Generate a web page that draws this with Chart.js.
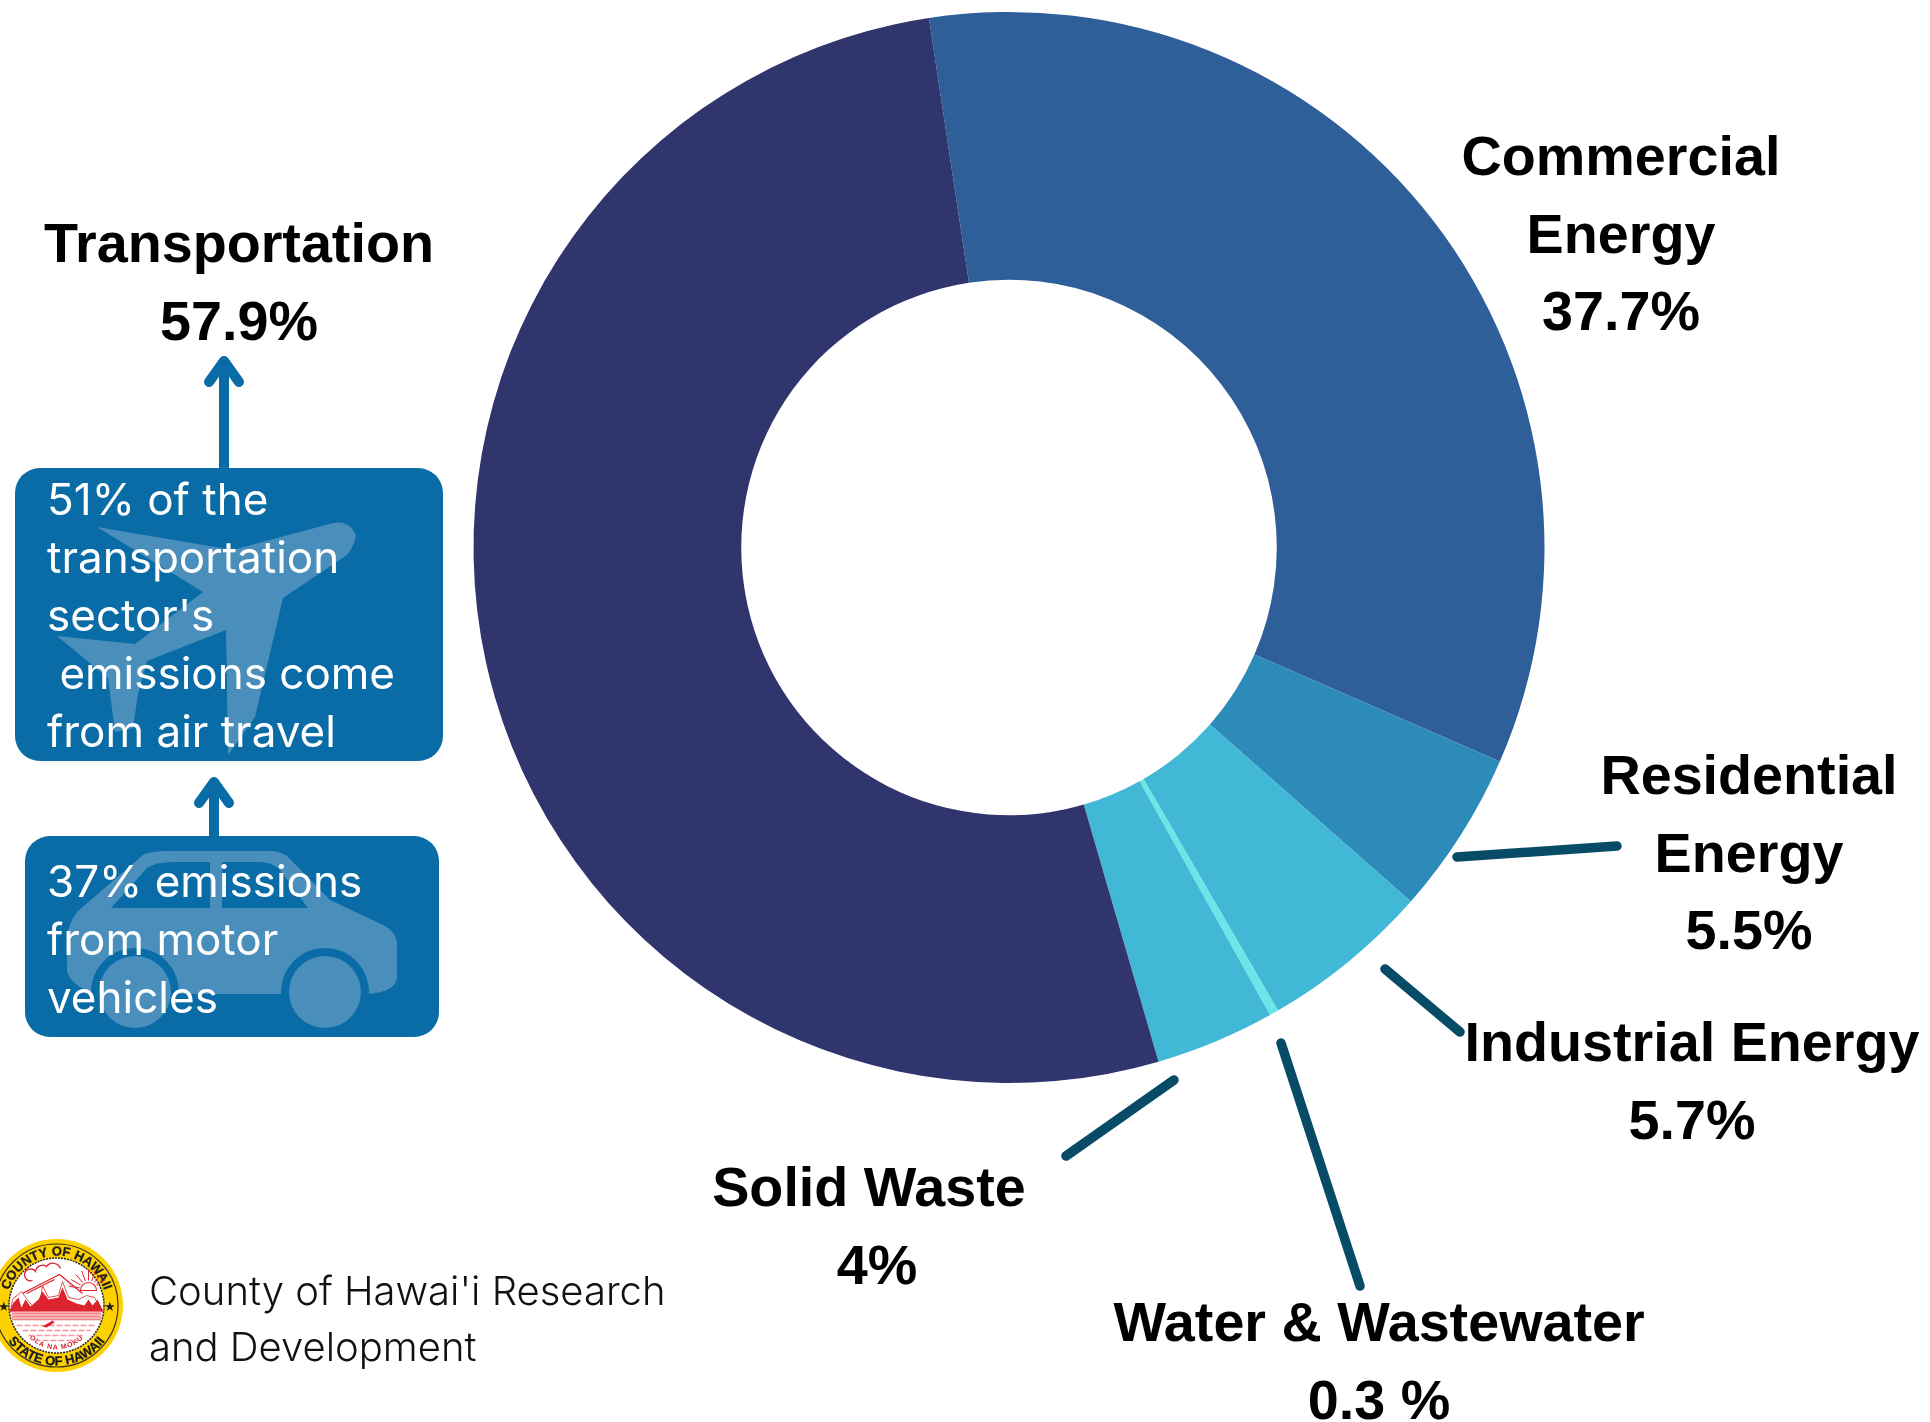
<!DOCTYPE html>
<html>
<head>
<meta charset="utf-8">
<title>Emissions by sector</title>
<script src="https://cdn.jsdelivr.net/npm/chart.js@4"></script>
<style>
	html, body { margin: 0; padding: 0; background: #fff; }
	#wrap { position: relative; width: 1930px; height: 1422px; overflow: hidden; }
	#sectorChart { position: absolute; left: 0; top: 0; }
	#overlay { position: absolute; left: 0; top: 0; }
	.label { font: bold 55.7px 'Liberation Sans', Arial, sans-serif; fill: #000; text-anchor: middle; }
	.note { font: 400 44px Inter, sans-serif; fill: #fff; }
	.credit { font: 300 40px Inter, sans-serif; fill: #111; }
	.seal { font: bold 13px 'Liberation Sans', sans-serif; fill: #1c1c1c; stroke: #1c1c1c; stroke-width: 0.3; text-anchor: middle; }
	.motto { font: bold 7px 'Liberation Sans', sans-serif; fill: #d9232e; text-anchor: middle; letter-spacing: 1px; }
</style>
</head>
<body>
<div id="wrap">
	<canvas id="sectorChart" width="1930" height="1422"></canvas>
	<svg id="overlay" width="1930" height="1422" xmlns="http://www.w3.org/2000/svg"></svg>
</div>
<script>
// sectors, clockwise from the top of the ring
const categories = ['Commercial Energy', 'Residential Energy', 'Industrial Energy', 'Water & Wastewater', 'Solid Waste', 'Transportation']
const sectorValues = [37.7, 5.5, 5.7, 0.3, 4, 57.9]
const sectorColors = ['#2f5f98', '#2d8bba', '#41b8d5', '#6ce5e8', '#41b8d5', '#31356e']

const valueText = ['37.7%', '5.5%', '5.7%', '0.3 %', '4%', '57.9%']

const noteLines = ['51% of the', 'transportation', "sector's", ' emissions come', 'from air travel']
const carNoteLines = ['37% emissions', 'from motor', 'vehicles']
const creditLines = ["County of Hawai'i Research", 'and Development']

new Chart(document.getElementById('sectorChart').getContext('2d'), {
	type: 'doughnut',
	data: {
		labels: categories,
		datasets: [
			{
				data: sectorValues,
				backgroundColor: sectorColors,
				borderWidth: 0,
			},
		],
	},
	options: {
		responsive: false,
		animation: false,
		cutout: '50%',
		rotation: -8.6,
		layout: { padding: { left: 473, right: 385, top: 12, bottom: 339 } },
		plugins: { legend: { display: false }, title: { display: false }, tooltip: { enabled: false } },
	},
})

const svg = document.getElementById('overlay')
const NS = 'http://www.w3.org/2000/svg'

function add(tag, attrs, text, parent) {
	const el = document.createElementNS(NS, tag)
	for (const k in attrs) el.setAttribute(k, attrs[k])
	if (text !== undefined) el.textContent = text
	;(parent || svg).appendChild(el)
	return el
}

// sector captions, one text per line
function caption(lines, x, y) {
	lines.forEach((line, i) => {
		add('text', { class: 'label', x: line.x || x, y: y + i * 77.5 }, line.t || line)
	})
}
caption(['Commercial', 'Energy', valueText[0]], 1621, 175)
caption(['Residential', 'Energy', valueText[1]], 1749, 794)
caption(['Industrial Energy', valueText[2]], 1692, 1061)
caption(['Water & Wastewater', valueText[3]], 1379, 1341)
caption(['Solid Waste', { t: valueText[4], x: 877 }], 869, 1206)
caption(['Transportation', valueText[5]], 239, 262)

// leader lines from captions to the ring
const leaders = [
	[1457, 857, 1617, 846],
	[1385, 969, 1460, 1032],
	[1281, 1043, 1360, 1286],
	[1174, 1080, 1066, 1156],
]
leaders.forEach(l => {
	add('line', { x1: l[0], y1: l[1], x2: l[2], y2: l[3], stroke: '#074b66', 'stroke-width': 9.5, 'stroke-linecap': 'round' })
})

// info boxes
const boxBlue = '#096ca6'
const iconBlue = '#4a8fbb'
add('rect', { x: 15, y: 468, width: 428, height: 293, rx: 25, fill: boxBlue })
add('rect', { x: 25, y: 836, width: 414, height: 201, rx: 25, fill: boxBlue })

// arrows above the boxes
function arrow(x, y1, y2, half, drop, w) {
	add('path', {
		d: `M${x} ${y1}V${y2}M${x - half} ${y2 + drop}L${x} ${y2}L${x + half} ${y2 + drop}`,
		fill: 'none', stroke: boxBlue, 'stroke-width': w, 'stroke-linecap': 'round', 'stroke-linejoin': 'round',
	})
}
arrow(224, 468, 361, 15, 21, 10)
arrow(214, 838, 782, 15, 21, 10)

// plane and car icons behind the note text
add('path', {
	d: 'M97 527L233 550L333 523Q350 520 356 536Q354 546 347 555L283 598L255 717L228 755L226 630L147 661L138 694L133 728L115 732L108 678L57 636L135 644L203 592Z',
	fill: iconBlue,
})
add('path', {
	d: 'M67 940Q68 922 78 911L143 855Q150 851 170 851L273 851Q284 852 290 859L330 900L383 925Q397 932 397 945L397 978Q395 992 368 994L95 994Q70 985 67 971Z',
	fill: iconBlue,
})
add('path', { d: 'M111 908L147 868Q155 862 175 862L210 862L210 908Z', fill: boxBlue })
add('path', { d: 'M222 862L262 862Q275 864 280 870L308 908L222 908Z', fill: boxBlue })
add('circle', { cx: 325, cy: 992, r: 44, fill: boxBlue })
add('circle', { cx: 325, cy: 992, r: 36, fill: iconBlue })
add('circle', { cx: 135, cy: 992, r: 44, fill: boxBlue })
add('circle', { cx: 135, cy: 992, r: 36, fill: iconBlue })

noteLines.forEach((line, i) => {
	add('text', { class: 'note', x: 47, y: 515 + i * 58, style: 'white-space:pre' }, line)
})
carNoteLines.forEach((line, i) => {
	add('text', { class: 'note', x: 47, y: 897 + i * 58 }, line)
})

creditLines.forEach((line, i) => {
	add('text', { class: 'credit', x: 149, y: 1305 + i * 56 }, line)
})

// county seal
const seal = add('g', { transform: 'translate(56.5 1305.5)' })
const sealRed = '#dd232d'
add('circle', { r: 66.5, fill: '#fdd000' }, undefined, seal)
add('circle', { r: 61.5, fill: 'none', stroke: '#3a3520', 'stroke-width': 1.2 }, undefined, seal)
add('circle', { r: 47.5, fill: '#fff', stroke: '#222', 'stroke-width': 1.5, 'stroke-dasharray': '2 1' }, undefined, seal)
const defs = add('defs', {}, undefined, seal)
add('path', { id: 'sealTop', d: 'M-50 0A50 50 0 0 1 50 0' }, undefined, defs)
add('path', { id: 'sealBottom', d: 'M-60 0A60 60 0 0 0 60 0' }, undefined, defs)
add('path', { id: 'sealMotto', d: 'M-40 0A40 44 0 0 0 40 0' }, undefined, defs)
const sealTop = add('text', { class: 'seal' }, undefined, seal)
add('textPath', { href: '#sealTop', startOffset: '50%' }, 'COUNTY OF HAWAII', sealTop)
const sealBottom = add('text', { class: 'seal' }, undefined, seal)
add('textPath', { href: '#sealBottom', startOffset: '50%' }, 'STATE OF HAWAII', sealBottom)
const sealMotto = add('text', { class: 'motto' }, undefined, seal)
add('textPath', { href: '#sealMotto', startOffset: '50%' }, 'OLA NA MOKU', sealMotto)

// volcano with its smoke, the sun behind the ridge, land and sea
add('path', {
	d: 'M-24 -25a6 6 0 1 1 3 -9a7 7 0 0 1 11 -5a8 8 0 0 1 14 2',
	fill: 'none', stroke: sealRed, 'stroke-width': 1.3,
}, undefined, seal)
add('path', { d: 'M-42 -8L3 -31L26 -12M-30 -12L-2 -26', fill: 'none', stroke: sealRed, 'stroke-width': 1.3 }, undefined, seal)
for (let a = -80; a <= 60; a += 20) {
	const r = a * Math.PI / 180
	add('line', {
		x1: 32 + 9 * Math.sin(r), y1: -16 - 9 * Math.cos(r), x2: 32 + 20 * Math.sin(r), y2: -16 - 20 * Math.cos(r),
		stroke: sealRed, 'stroke-width': 1,
	}, undefined, seal)
}
add('path', { d: 'M24 -15A8 8 0 0 1 40 -15Z', fill: 'none', stroke: sealRed, 'stroke-width': 1.2 }, undefined, seal)
add('path', {
	d: 'M-46 6L-44 -6L-35 -14L-28 -4L-22 2L-16 -6L-14 -20L-8 -8L2 -10L6 -24L12 -8L22 -6L30 -10L38 -8L46 6Z',
	fill: '#fff', stroke: sealRed, 'stroke-width': 0.8,
}, undefined, seal)
add('path', {
	d: 'M-47 6L-43 -3L-38 -8L-35 2L-31 -6L-26 1L-18 -6L-14 -14L-8 -6L2 -8L6 -18L11 -6L20 -2L28 0L32 -6L36 0L41 -6L47 6Z',
	fill: sealRed,
}, undefined, seal)
add('rect', { x: -45, y: 6, width: 90, height: 9, fill: '#f7b3b5' }, undefined, seal)
for (let i = 0; i < 3; i++) {
	add('line', { x1: -44, y1: 8 + i * 3, x2: 44, y2: 8 + i * 3, stroke: '#ee8388', 'stroke-width': 1 }, undefined, seal)
}
for (let i = 0; i < 4; i++) {
	const hw = 40 - i * 6
	add('line', {
		x1: -hw, y1: 20 + i * 5, x2: hw, y2: 20 + i * 5,
		stroke: '#f19297', 'stroke-width': 1.3, 'stroke-dasharray': '6 2',
	}, undefined, seal)
}
add('path', { d: 'M-14 21L-4 15L-2 17L-10 22Z', fill: sealRed }, undefined, seal)
add('text', { x: -53, y: 5, 'font-size': 13, 'text-anchor': 'middle', fill: '#1c1c1c' }, '★', seal)
add('text', { x: 53, y: 5, 'font-size': 13, 'text-anchor': 'middle', fill: '#1c1c1c' }, '★', seal)
</script>
</body>
</html>
